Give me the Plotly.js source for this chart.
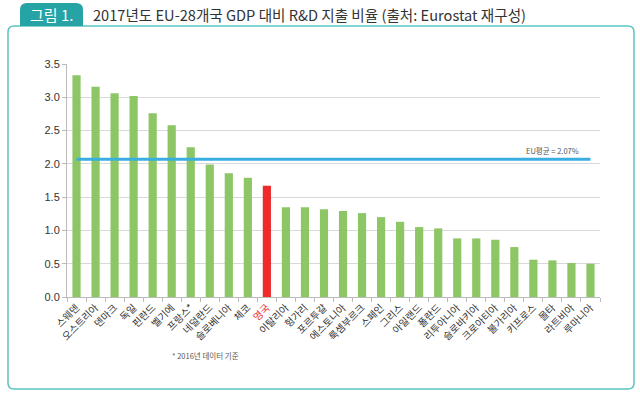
<!DOCTYPE html>
<html><head><meta charset="utf-8">
<script src="https://cdn.plot.ly/plotly-3.0.1.min.js"></script>
<style>html,body{margin:0;padding:0;background:#fff;}#chart{width:640px;height:399px;}</style>
</head><body><div id="chart"></div>
<script>
const countries = ['스웨덴','오스트리아','덴마크','독일','핀란드','벨기에','프랑스*','네덜란드','슬로베니아','체코','영국','이탈리아','헝가리','포르투갈','에스토니아','룩셈부르크','스페인','그리스','아일랜드','폴란드','리투아니아','슬로바키아','크로아티아','불가리아','키프로스','몰타','라트비아','루마니아'];
const values = [3.33,3.16,3.06,3.02,2.76,2.58,2.25,1.99,1.86,1.79,1.67,1.35,1.35,1.32,1.29,1.26,1.20,1.13,1.05,1.03,0.88,0.88,0.86,0.75,0.56,0.55,0.51,0.50];
const highlight = '영국';
const euAvg = 2.07;
const yTicks = [0,0.5,1,1.5,2,2.5,3,3.5];
const yTickText = ['0.0','0.5','1.0','1.5','2.0','2.5','3.0','3.5'];

const green = '#8cc665', red = '#ee2b2b';
const barColors = countries.map(c => c === highlight ? red : green);

// plot area pixel geometry
const L = 67, R = 600, T = 64, B = 297;
const px = x => (x - L) / (R - L);
const py = y => (B - y) / (B - T);

const traces = [
  {type:'bar', x: countries, y: values, marker:{color: barColors}, hoverinfo:'x+y'},
  {type:'scatter', mode:'lines', x:[countries[0], countries[countries.length-1]], y:[euAvg, euAvg],
   line:{color:'#3aaee0', width:3}, hoverinfo:'skip'}
];

function roundRect(x0,y0,x1,y1,r){
  const rx = r/(R-L), ry = r/(B-T);
  const X0=px(x0), X1=px(x1), Y0=py(y0), Y1=py(y1);
  return `M ${X0+rx},${Y0} L ${X1-rx},${Y0} Q ${X1},${Y0} ${X1},${Y0-ry} L ${X1},${Y1+ry} Q ${X1},${Y1} ${X1-rx},${Y1} L ${X0+rx},${Y1} Q ${X0},${Y1} ${X0},${Y1+ry} L ${X0},${Y0-ry} Q ${X0},${Y0} ${X0+rx},${Y0} Z`;
}
function tabPath(x0,y0,x1,y1,r){
  const rx = r/(R-L), ry = r/(B-T);
  const X0=px(x0), X1=px(x1), Y0=py(y0), Y1=py(y1);
  return `M ${X0},${Y1} L ${X0},${Y0-ry} Q ${X0},${Y0} ${X0+rx},${Y0} L ${X1-rx},${Y0} Q ${X1},${Y0} ${X1},${Y0-ry} L ${X1},${Y1} Z`;
}

const layout = {
  width:640, height:399,
  margin:{l:L, r:640-R, t:T, b:399-B},
  paper_bgcolor:'#fff', plot_bgcolor:'#fff',
  showlegend:false,
  bargap:0.57,
  font:{family:'"Liberation Sans", "Noto Sans CJK KR", sans-serif', color:'#333'},
  xaxis:{
    type:'category', tickangle:-45, tickfont:{size:10, color:'#333', family:'"Noto Sans CJK KR", sans-serif'},
    ticks:'outside', tickson:'boundaries', ticklen:4, tickcolor:'#bbb',
    showline:true, linecolor:'#bbb', linewidth:1, showgrid:false, automargin:false, fixedrange:true
  },
  yaxis:{
    range:[0,3.5], tickvals:yTicks, ticktext:yTickText, tickfont:{size:11, color:'#333'},
    showgrid:true, gridcolor:'#d9d9d9', gridwidth:1,
    ticks:'outside', ticklen:4, tickcolor:'#bbb', showline:true, linecolor:'#bbb',
    zeroline:false, automargin:false, fixedrange:true
  },
  shapes:[
    {type:'path', xref:'paper', yref:'paper', path: roundRect(8,26,634,389,6), line:{color:'#5cc3c3', width:1.5}, fillcolor:'rgba(0,0,0,0)', layer:'below'},
    {type:'path', xref:'paper', yref:'paper', path: tabPath(20,3,83,26,7), line:{width:0}, fillcolor:'#26a3a5', layer:'below'}
  ],
  annotations:[
    {xref:'paper', yref:'paper', x:px(51.5), y:py(15), text:'그림 1.', showarrow:false,
     font:{family:'"Noto Sans CJK KR", sans-serif', size:15, color:'#fff'}, xanchor:'center', yanchor:'middle'},
    {xref:'paper', yref:'paper', x:px(91), y:py(15), text:'2017년도 EU-28개국 GDP 대비 R&D 지출 비율 (출처: Eurostat 재구성)', showarrow:false,
     font:{family:'"Noto Sans CJK KR", sans-serif', size:14.6, color:'#333'}, xanchor:'left', yanchor:'middle'},
    {xref:'x', yref:'y', x:countries[25], y:euAvg, yshift:9, text:'EU평균 = 2.07%', showarrow:false,
     font:{family:'"Noto Sans CJK KR", sans-serif', size:7.5, color:'#555'}, xanchor:'center', yanchor:'middle'},
    {xref:'paper', yref:'paper', x:px(205), y:py(355), text:'* 2016년 데이터 기준', showarrow:false,
     font:{family:'"Noto Sans CJK KR", sans-serif', size:7.5, color:'#555'}, xanchor:'center', yanchor:'middle'}
  ]
};

Plotly.newPlot('chart', traces, layout, {displayModeBar:false, staticPlot:true}).then(() => {
  document.querySelectorAll('.xtick text').forEach(t => {
    if (t.textContent === highlight) t.style.fill = red;
  });
});
</script></body></html>
